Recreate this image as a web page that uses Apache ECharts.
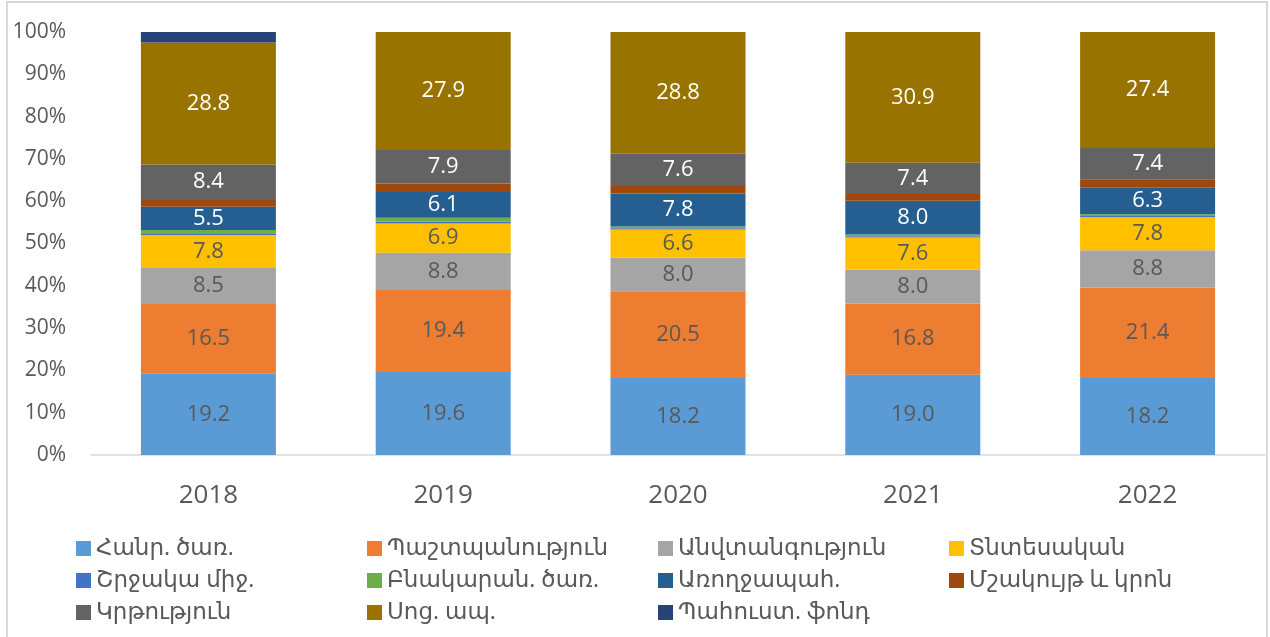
<!DOCTYPE html>
<html>
<head>
<meta charset="utf-8">
<script src="https://cdn.jsdelivr.net/npm/echarts@6/dist/echarts.min.js"></script>
<style>
  html, body { margin: 0; padding: 0; background: #fff; }
  #chart { width: 1270px; height: 637px; }
</style>
</head>
<body>
<div id="chart"></div>
<script>
const years = ['2018', '2019', '2020', '2021', '2022'];

const seriesNames = [
  'Հանր. ծառ.', 'Պաշտպանություն', 'Անվտանգություն', 'Տնտեսական',
  'Շրջակա միջ.', 'Բնակարան. ծառ.', 'Առողջապահ.', 'Մշակույթ և կրոն',
  'Կրթություն', 'Սոց. ապ.', 'Պահուստ. ֆոնդ'
];

// values per category, one array per year order 2018..2022
const hanr    = [19.2, 19.6, 18.2, 19.0, 18.2];
const pasht   = [16.5, 19.4, 20.5, 16.8, 21.4];
const anvt    = [8.5, 8.8, 8.0, 8.0, 8.8];
const tnt     = [7.8, 6.9, 6.6, 7.6, 7.8];
const shrj    = [0.4, 0.5, 0.3, 0.3, 0.3];
const bnak    = [0.8, 0.9, 0.4, 0.4, 0.4];
const arogj   = [5.5, 6.1, 7.8, 8.0, 6.3];
const mshak   = [1.6, 2.0, 1.8, 1.6, 2.0];
const krt     = [8.4, 7.9, 7.6, 7.4, 7.4];
const soc     = [28.8, 27.9, 28.8, 30.9, 27.4];
const pahust  = [2.5, 0, 0, 0, 0];

const yTicks = [0, 10, 20, 30, 40, 50, 60, 70, 80, 90, 100];

const allData = [hanr, pasht, anvt, tnt, shrj, bnak, arogj, mshak, krt, soc, pahust];
const colors = ['#5B9BD5', '#ED7D31', '#A5A5A5', '#FFC000', '#4472C4', '#70AD47',
                '#255E91', '#9E480E', '#636363', '#997300', '#264478'];
// which series get a value label and in what colour
const labelColor = ['#595959', '#595959', '#595959', '#595959', null, null,
                    '#ffffff', null, '#ffffff', '#ffffff', null];

const FONT = '"Open Sans", "DejaVu Sans", sans-serif';

const chart = echarts.init(document.getElementById('chart'));

chart.setOption({
  animation: false,
  textStyle: { fontFamily: FONT },
  graphic: [{
    type: 'rect',
    shape: { x: 7, y: 2, width: 1260, height: 640 },
    style: { fill: 'none', stroke: '#d9d9d9', lineWidth: 2 },
    silent: true
  }],
  grid: { left: 91, right: 5, top: 32, bottom: 182 },
  xAxis: {
    type: 'category',
    data: years,
    axisLine: { lineStyle: { color: '#d9d9d9', width: 1.5 } },
    axisTick: { show: false },
    axisLabel: { color: '#595959', fontSize: 26, margin: 28, fontFamily: FONT }
  },
  yAxis: {
    type: 'value',
    min: yTicks[0],
    max: yTicks[yTicks.length - 1],
    interval: 10,
    splitLine: { show: false },
    axisLine: { show: false },
    axisTick: { show: false },
    axisLabel: { color: '#595959', fontSize: 21, margin: 25, formatter: v => v + '%', fontFamily: FONT }
  },
  legend: {
    left: 71,
    top: 532,
    width: 1190,
    itemWidth: 15,
    itemHeight: 15,
    itemGap: 9,
    icon: 'rect',
    textStyle: { color: '#595959', fontSize: 23, width: 262, lineHeight: 22, fontFamily: FONT },
    data: seriesNames
  },
  series: seriesNames.map((name, i) => ({
    name: name,
    type: 'bar',
    stack: 'total',
    barWidth: '57.5%',
    data: allData[i],
    itemStyle: { color: colors[i] },
    label: {
      show: labelColor[i] !== null,
      position: 'inside',
      color: labelColor[i] || '#fff',
      fontSize: 22,
      fontFamily: FONT,
      formatter: p => p.value.toFixed(1)
    }
  }))
});
</script>
</body>
</html>
